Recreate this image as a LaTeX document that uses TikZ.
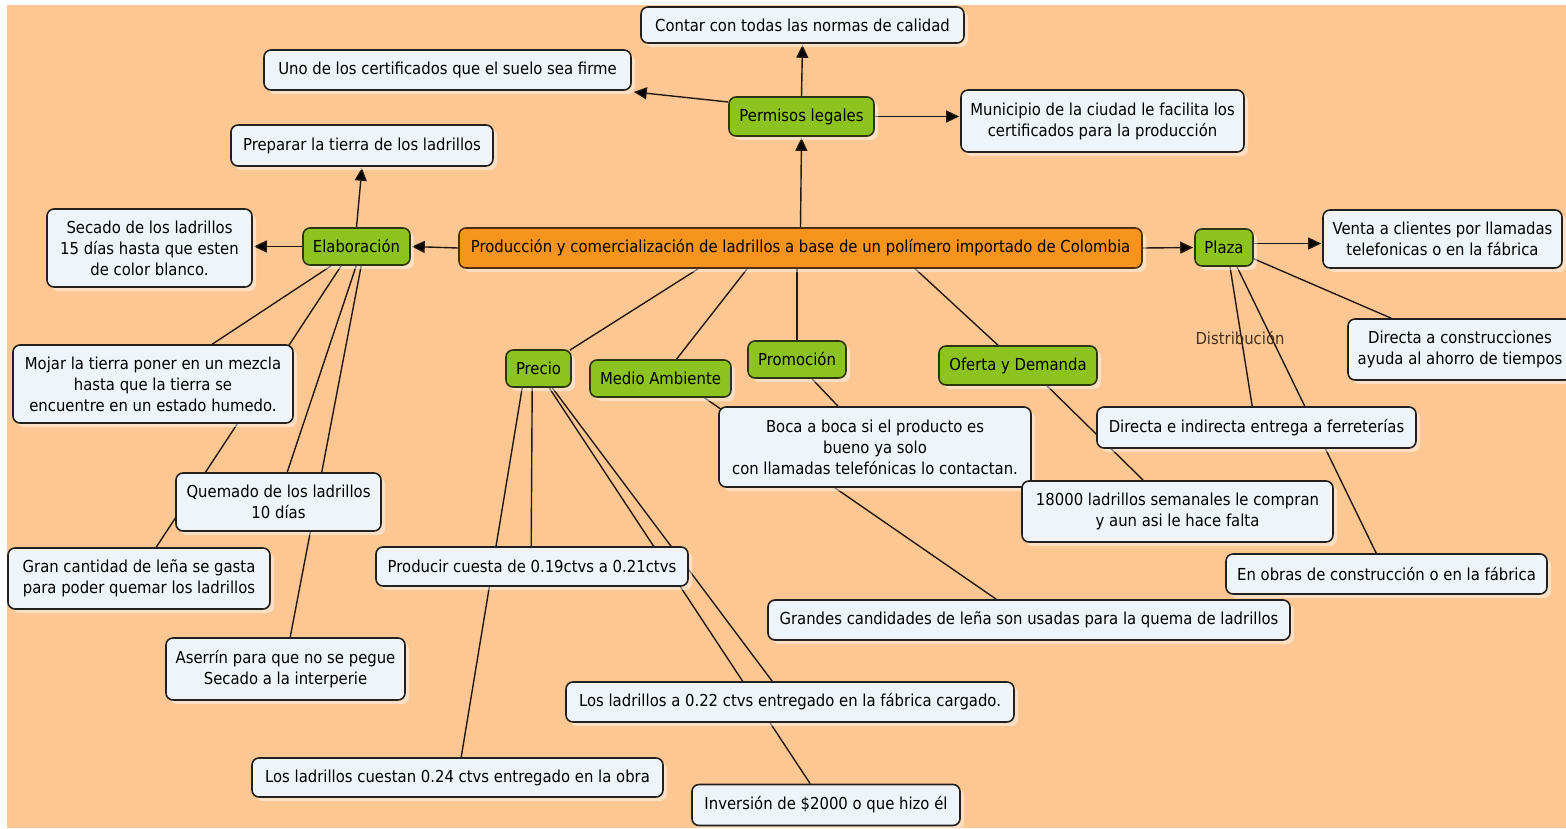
\documentclass[tikz,border=0pt]{standalone}
\usepackage{fontspec}
\setmainfont{DejaVu Sans}[FakeStretch=0.9]
\usetikzlibrary{arrows.meta,calc,shadows}

\definecolor{paper}{RGB}{252,199,147}
\definecolor{cardfill}{RGB}{238,244,247}
\definecolor{cardline}{RGB}{35,33,32}
\definecolor{leaf}{RGB}{141,195,30}
\definecolor{leafline}{RGB}{45,55,15}
\definecolor{core}{RGB}{247,148,30}
\definecolor{coreline}{RGB}{80,45,12}
\definecolor{wire}{RGB}{35,25,18}
\definecolor{phrase}{RGB}{70,50,30}

\pgfdeclarelayer{back}
\pgfdeclarelayer{wires}
\pgfsetlayers{back,wires,main}

\tikzset{
  base/.style={rounded corners=7pt, line width=1.6pt, align=center, inner sep=0pt,
    font=\fontsize{16.5}{21}\selectfont, text=black},
  glow/.style={drop shadow={shadow xshift=4pt, shadow yshift=-4pt, fill=white, opacity=0.45}},
  card/.style={base, glow, draw=cardline, fill=cardfill},
  topic/.style={base, glow, draw=leafline, fill=leaf},
  hub/.style={base, glow, draw=coreline, fill=core},
  link/.style={draw=wire, line width=1.4pt},
  arrow/.style={link, -{Triangle[length=13pt,width=12pt,fill=black]}, shorten >=1pt},
  phraselabel/.style={font=\fontsize{16.5}{21}\selectfont, text=phrase, inner sep=0pt}
}

\begin{document}
\begin{tikzpicture}[x=1pt,y=-1pt]
\useasboundingbox (0,0) rectangle (1566,828);
\begin{pgfonlayer}{back}
  \fill[white] (0,0) rectangle (1566,828);
  \fill[paper] (7,5) rectangle (1566,828);
\end{pgfonlayer}

% central concept and first-level topics
\node[hub, minimum width=683pt, minimum height=40pt] (central) at (800.5,248)
  {Producción y comercialización de ladrillos a base de un polímero importado de Colombia};
\node[topic, minimum width=145pt, minimum height=39pt] (permisos) at (801.5,116.5) {Permisos legales};
\node[topic, minimum width=107pt, minimum height=37pt] (elab) at (356.5,246.5) {Elaboración};
\node[topic, minimum width=58pt, minimum height=37pt] (plaza) at (1224,247.5) {Plaza};
\node[topic, minimum width=65pt, minimum height=37pt] (precio) at (538.5,368.5) {Precio};
\node[topic, minimum width=141pt, minimum height=37pt] (medio) at (660.5,378.5) {Medio Ambiente};
\node[topic, minimum width=98pt, minimum height=37pt] (promo) at (797,359.5) {Promoción};
\node[topic, minimum width=158pt, minimum height=39pt] (oferta) at (1018,365.5) {Oferta y Demanda};

% permisos legales
\node[card, minimum width=323pt, minimum height=36pt] (contar) at (802.5,25) {Contar con todas las normas de calidad};
\node[card, minimum width=367pt, minimum height=40pt] (uno) at (447.5,70) {Uno de los certificados que el suelo sea firme};
\node[card, minimum width=283pt, minimum height=62pt] (municipio) at (1102.5,121)
  {Municipio de la ciudad le facilita los\\certificados para la producción};

% elaboracion
\node[card, minimum width=262pt, minimum height=41pt] (preparar) at (362,145.5) {Preparar la tierra de los ladrillos};
\node[card, minimum width=205pt, minimum height=78pt] (secado) at (149.5,248)
  {Secado de los ladrillos\\15 días hasta que esten\\de color blanco.};
\node[card, minimum width=280pt, minimum height=78pt] (mojar) at (153,384)
  {Mojar la tierra poner en un mezcla\\hasta que la tierra se\\encuentre en un estado humedo.};
\node[card, minimum width=205pt, minimum height=58pt] (quemado) at (278.5,502)
  {Quemado de los ladrillos\\10 días};
\node[card, minimum width=262pt, minimum height=61pt] (gran) at (139,578.5)
  {Gran cantidad de leña se gasta\\para poder quemar los ladrillos};
\node[card, minimum width=239pt, minimum height=62pt] (aserrin) at (285.5,669)
  {Aserrín para que no se pegue\\Secado a la interperie};

% precio
\node[card, minimum width=312pt, minimum height=39pt] (producir) at (532,566.5) {Producir cuesta de 0.19ctvs a 0.21ctvs};
\node[card, minimum width=448pt, minimum height=40pt] (l022) at (790,702) {Los ladrillos a 0.22 ctvs entregado en la fábrica cargado.};
\node[card, minimum width=411pt, minimum height=39pt] (l024) at (457.5,777.5) {Los ladrillos cuestan 0.24 ctvs entregado en la obra};
\node[card, minimum width=268pt, minimum height=41pt] (inversion) at (826,805) {Inversión de \$2000 o que hizo él};

% promocion, medio ambiente, oferta
\node[card, minimum width=312pt, minimum height=80pt] (boca) at (875,447)
  {Boca a boca si el producto es\\bueno ya solo\\con llamadas telefónicas lo contactan.};
\node[card, minimum width=522pt, minimum height=40pt] (grandes) at (1029,620)
  {Grandes candidades de leña son usadas para la quema de ladrillos};
\node[card, minimum width=311pt, minimum height=61pt] (k18000) at (1177.5,511.5)
  {18000 ladrillos semanales le compran\\y aun asi le hace falta};

% plaza
\node[card, minimum width=239pt, minimum height=58pt] (venta) at (1442.5,239)
  {Venta a clientes por llamadas\\telefonicas o en la fábrica};
\node[card, minimum width=224pt, minimum height=61pt] (dircons) at (1460,349.5)
  {Directa a construcciones\\ayuda al ahorro de tiempos};
\node[phraselabel] (distrib) at (1240,338) {Distribución};
\node[card, minimum width=319pt, minimum height=41pt] (dirind) at (1256.5,427.5) {Directa e indirecta entrega a ferreterías};
\node[card, minimum width=321pt, minimum height=40pt] (enobras) at (1386.5,574) {En obras de construcción o en la fábrica};

\begin{pgfonlayer}{wires}
  % arrows
  \draw[arrow] (central.north) -- (permisos.south);
  \draw[arrow] (permisos.north) -- (contar.south);
  \draw[arrow] ($(permisos.west)+(0,-14.5)$) -- ($(uno.south east)+(1,1)$);
  \draw[arrow] (permisos.east) -- (permisos.east -| municipio.west);
  \draw[arrow] (central.west) -- (elab.east);
  \draw[arrow] (elab.north) -- (preparar.south);
  \draw[arrow] (elab.west) -- (elab.west -| secado.east);
  \draw[arrow] (central.east) -- (plaza.west);
  \draw[arrow] ($(plaza.east)+(0,-4)$) -- ($(plaza.east -| venta.west)+(0,-4)$);

  % central concept to lower topics
  \draw[link] ($(central.south west)+(240,0)$) -- ($(precio.north east)+(-2,1)$);
  \draw[link] ($(central.south west)+(289,0)$) -- ($(medio.north)+(16,0)$);
  \draw[link] (central.south -| promo.north) -- (promo.north);
  \draw[link] ($(central.south west)+(457,0)$) -- ($(oferta.north)+(-20,0)$);

  % elaboracion branches
  \draw[link] ($(elab.south west)+(29,0)$) -- ($(mojar.north west)+(200,0)$);
  \draw[link] ($(elab.south west)+(39,0)$) -- ($(gran.north west)+(149,0)$);
  \draw[link] ($(elab.south west)+(54,0)$) -- ($(quemado.north west)+(112,0)$);
  \draw[link] ($(elab.south west)+(59,0)$) -- ($(aserrin.north west)+(125,0)$);

  % precio branches
  \draw[link] ($(precio.south west)+(17,0)$) -- ($(l024.north west)+(210,0)$);
  \draw[link] ($(precio.south west)+(27,0)$) -- ($(producir.north west)+(156,0)$);
  \draw[link] ($(precio.south west)+(44,0)$) -- ($(inversion.north west)+(119,0)$);
  \draw[link] ($(precio.south west)+(47,0)$) -- ($(l022.north west)+(207,0)$);

  % promocion, medio ambiente, oferta
  \draw[link] ($(promo.south)+(15,0)$) -- ($(boca.north)+(-37,0)$);
  \draw[link] ($(medio.south)+(44,0)$) -- ($(grandes.north west)+(229,0)$);
  \draw[link] ($(oferta.south)+(29,0)$) -- ($(k18000.north west)+(122,0)$);

  % plaza branches
  \draw[link] ($(plaza.south east)+(0,-8)$) -- ($(dircons.north west)+(44,0)$);
  \draw[link] ($(plaza.south)+(6,0)$) -- ($(dirind.north west)+(156,0)$);
  \draw[link] ($(plaza.south)+(13,0)$) -- ($(enobras.north west)+(151,0)$);
\end{pgfonlayer}
\end{tikzpicture}
\end{document}
